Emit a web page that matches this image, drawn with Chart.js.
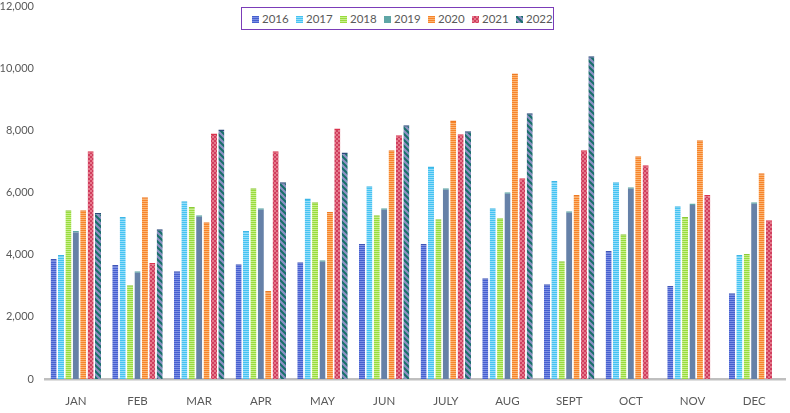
<!DOCTYPE html>
<html>
<head>
<meta charset="utf-8">
<script src="https://cdn.jsdelivr.net/npm/chart.js@4/dist/chart.umd.min.js"></script>
<style>
  body { margin: 0; background: #fff; }
  #wrap { position: relative; width: 790px; height: 413px; }
  #legend {
    position: absolute; left: 241px; top: 7px; width: 311px; height: 21px;
    border: 1.5px solid #7B3DB8; background: #fff;
    font-family: Lato, "Liberation Sans", sans-serif; font-size: 11.5px; color: #595959;
  }
  #legend span.item { position: absolute; top: 3px; line-height: 15px; white-space: nowrap; }
  #legend canvas { display: inline-block; width: 7px; height: 7px; vertical-align: middle; margin-right: 3px; margin-top: -2px; }
</style>
</head>
<body>
<div id="wrap">
  <canvas id="chart" width="790" height="413"></canvas>
  <div id="legend"></div>
</div>
<script>
// DATA
const months = ["JAN", "FEB", "MAR", "APR", "MAY", "JUN", "JULY", "AUG", "SEPT", "OCT", "NOV", "DEC"];
const years = ["2016", "2017", "2018", "2019", "2020", "2021", "2022"];
const y2016 = [3860, 3670, 3470, 3690, 3760, 4340, 4340, 3240, 3050, 4120, 2990, 2760];
const y2017 = [3990, 5210, 5720, 4760, 5810, 6200, 6840, 5490, 6370, 6330, 5560, 3990];
const y2018 = [5430, 3020, 5530, 6140, 5690, 5270, 5140, 5170, 3790, 4660, 5210, 4020];
const y2019 = [4760, 3470, 5270, 5490, 3820, 5490, 6140, 6010, 5400, 6170, 5650, 5690];
const y2020 = [5430, 5850, 5040, 2830, 5370, 7360, 8320, 9830, 5920, 7170, 7680, 6620];
const y2021 = [7330, 3730, 7900, 7330, 8060, 7840, 7870, 6460, 7360, 6880, 5920, 5110];
const y2022 = [5340, 4820, 8030, 6330, 7290, 8160, 7970, 8550, 10380, null, null, null];
const yTicks = [0, 2000, 4000, 6000, 8000, 10000, 12000];

// PATTERNS
function tile(w, h, draw) {
    const c = document.createElement("canvas");
    c.width = w; c.height = h;
    draw(c.getContext("2d"));
    return c;
}
function hStripes(dark, light) {
    return tile(1, 2, g => {
        g.fillStyle = dark; g.fillRect(0, 0, 1, 1);
        g.fillStyle = light; g.fillRect(0, 1, 1, 1);
    });
}
const tiles = [
    hStripes("#4660CF", "#7E90E4"),
    hStripes("#45C3F2", "#96DDF9"),
    hStripes("#98DC3C", "#C9EF8E"),
    tile(1, 1, g => { g.fillStyle = "#6681A8"; g.fillRect(0, 0, 1, 1); }),
    hStripes("#F7842A", "#FBB574"),
    tile(4, 4, g => {
        g.fillStyle = "#D03E5E"; g.fillRect(0, 0, 4, 4);
        g.fillStyle = "#E57A8C"; g.fillRect(0, 0, 2, 2); g.fillRect(2, 2, 2, 2);
    }),
    tile(6, 6, g => {
        g.fillStyle = "#8E92C4"; g.fillRect(0, 0, 6, 6);
        g.strokeStyle = "#17706A"; g.lineWidth = 2;
        g.beginPath();
        g.moveTo(-1, -1); g.lineTo(7, 7);
        g.moveTo(-4, 2); g.lineTo(2, 8);
        g.moveTo(2, -4); g.lineTo(8, 2);
        g.stroke();
    })
];
const topColors = ["#3F55B8", "#3DB6E6", "#8CCB35", "#5FA6A6", "#EE7A22", "#D9344E", "#2A4A7A"];

const ctx = document.getElementById("chart").getContext("2d");
const patterns = tiles.map(t => ctx.createPattern(t, "repeat"));
const series = [y2016, y2017, y2018, y2019, y2020, y2021, y2022];

const chart = new Chart(ctx, {
    type: "bar",
    data: {
        labels: months,
        datasets: years.map((y, i) => ({
            label: y,
            data: series[i],
            backgroundColor: patterns[i],
            borderColor: topColors[i],
            borderWidth: { top: 1.5, left: 0, right: 0, bottom: 0 },
            borderSkipped: "bottom",
            categoryPercentage: 0.84,
            barPercentage: 0.82
        }))
    },
    options: {
        responsive: false,
        animation: false,
        layout: { padding: { top: 0, right: 5, left: 0, bottom: 0 } },
        plugins: { legend: { display: false }, tooltip: { enabled: false } },
        scales: {
            x: {
                grid: { display: false },
                border: { color: "#BFBFBF", width: 2.5 },
                ticks: { color: "#595959", font: { family: "Lato", size: 11.5 }, padding: 7 },
                afterFit: s => { s.height = 34; }
            },
            y: {
                min: 0,
                max: 12000,
                grid: { display: false, drawTicks: false },
                border: { display: false },
                afterBuildTicks: s => { s.ticks = yTicks.map(v => ({ value: v })); },
                ticks: {
                    color: "#595959",
                    font: { family: "Lato", size: 11 },
                    padding: 11,
                    callback: v => v.toLocaleString("en-US")
                },
                afterFit: s => { s.width = 45; s.paddingTop = 6; s.paddingBottom = 0; }
            }
        }
    }
});

// LEGEND
const legend = document.getElementById("legend");
years.forEach((y, i) => {
    const item = document.createElement("span");
    item.className = "item";
    item.style.left = (10 + i * 44) + "px";
    const sw = document.createElement("canvas");
    sw.width = 7; sw.height = 7;
    const g = sw.getContext("2d");
    g.fillStyle = i === 3 ? "#5FA6A6" : g.createPattern(tiles[i], "repeat");
    g.fillRect(0, 0, 7, 7);
    item.appendChild(sw);
    item.appendChild(document.createTextNode(y));
    legend.appendChild(item);
});
</script>
</body>
</html>
